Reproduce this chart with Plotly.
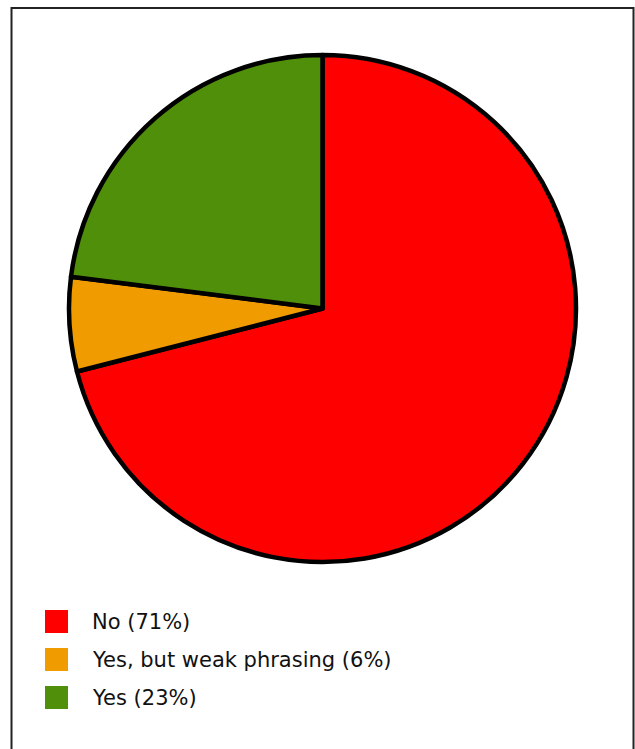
import plotly.graph_objects as go

labels = ["No", "Yes, but weak phrasing", "Yes"]
values = [71, 6, 23]
colors = ["#ff0000", "#f09c00", "#508f0a"]

W, H = 635, 749


def px(x):
    return x / W


def py(y):
    return 1 - y / H


fig = go.Figure()

cx, cy, r = 322.5, 308.5, 253.5
fig.add_trace(go.Pie(
    labels=labels, values=values, sort=False, direction="clockwise", rotation=0,
    marker=dict(colors=colors, line=dict(color="#000000", width=4.5)),
    textinfo="none", hoverinfo="label+percent", showlegend=False,
    domain=dict(x=[px(cx - r), px(cx + r)], y=[py(cy + r), py(cy - r)]),
))

shapes = [dict(type="rect", xref="paper", yref="paper",
               x0=px(11.5), x1=px(633.5), y0=-0.05, y1=py(8),
               line=dict(color="#222222", width=2), fillcolor="rgba(0,0,0,0)")]
annotations = []
y_centers = [621.5, 659.5, 697.5]
for lab, val, col, yc in zip(labels, values, colors, y_centers):
    shapes.append(dict(type="rect", xref="paper", yref="paper",
                       x0=px(45), x1=px(68), y0=py(yc + 11.5), y1=py(yc - 11.5),
                       line=dict(width=0), fillcolor=col))
    annotations.append(dict(xref="paper", yref="paper", x=px(90), y=py(yc),
                            xanchor="left", yanchor="middle", showarrow=False,
                            text=f"{lab} ({val}%)",
                            font=dict(family="DejaVu Sans", size=21, color="#111111")))

fig.update_layout(width=W, height=H, margin=dict(l=0, r=0, t=0, b=0),
                  paper_bgcolor="white", plot_bgcolor="white",
                  shapes=shapes, annotations=annotations)
fig.write_html("out.html", config={"displayModeBar": False},
               post_script="document.body.style.margin='0';document.body.style.overflow='hidden';")
